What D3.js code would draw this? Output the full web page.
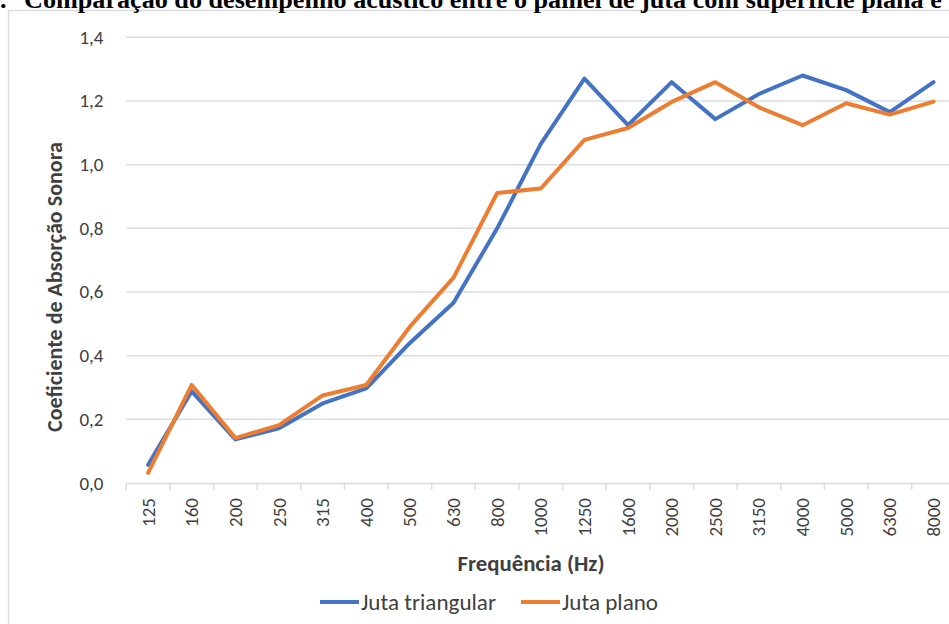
<!DOCTYPE html>
<html>
<head>
<meta charset="utf-8">
<script src="https://cdn.jsdelivr.net/npm/d3@7"></script>
<style>
  html, body { margin: 0; padding: 0; background: #ffffff; }
  svg { display: block; }
  .lbl { font-family: Carlito, Calibri, Lato, "Open Sans", sans-serif; fill: #404040; }
</style>
</head>
<body>
<svg id="chart" width="949" height="624"></svg>
<script>
// Frequency bands (Hz)
const frequencies = ["125", "160", "200", "250", "315", "400", "500", "630", "800", "1000",
                     "1250", "1600", "2000", "2500", "3150", "4000", "5000", "6300", "8000"];

// Sound absorption coefficient per band
const jutaTriangular = [0.057, 0.288, 0.137, 0.172, 0.250, 0.297, 0.440, 0.566, 0.800, 1.065,
                        1.270, 1.124, 1.259, 1.143, 1.222, 1.280, 1.234, 1.165, 1.259];
const jutaPlano      = [0.032, 0.308, 0.141, 0.182, 0.275, 0.308, 0.491, 0.645, 0.911, 0.925,
                        1.078, 1.115, 1.197, 1.259, 1.180, 1.124, 1.193, 1.157, 1.198];

const yTicks = [0, 0.2, 0.4, 0.6, 0.8, 1.0, 1.2, 1.4];

const seriesNames = ["Juta triangular", "Juta plano"];
const seriesColors = ["#4472C4", "#ED7D31"];

const titleText = "Comparação do desempenho acústico entre o painel de juta com superfície plana e";
const yTitle = "Coeficiente de Absorção Sonora";
const xTitle = "Frequência (Hz)";

const svg = d3.select("#chart");
const gridColor = "#d9dce2";

// Fit a text element's font size so its rendered width equals the target width
function fitWidth(sel, target) {
  const w = sel.node().getComputedTextLength();
  const fs = parseFloat(sel.style("font-size"));
  const nfs = fs * target / w;
  sel.style("font-size", nfs + "px");
  return nfs;
}

// Chart frame
svg.append("rect")
  .attr("x", 8.5).attr("y", 10.5)
  .attr("width", 960).attr("height", 640)
  .attr("fill", "#ffffff")
  .attr("stroke", gridColor).attr("stroke-width", 1.5);

// Title (runs past the top edge of the page)
const title = svg.append("text")
  .attr("y", 7.5)
  .style("font-family", "'Liberation Serif', 'Times New Roman', serif")
  .style("font-weight", "bold")
  .style("font-size", "22px")
  .style("fill", "#000");
title.append("tspan").attr("x", 0).text(".");
const titleMain = title.append("tspan").attr("x", 24).text(titleText);
{
  const w = titleMain.node().getComputedTextLength();
  title.style("font-size", (22 * 918 / w) + "px");
}

// Scales
const x = d3.scaleBand().domain(frequencies).range([126.3, 955.3]).padding(0);
const y = d3.scaleLinear().domain([0, 1.4]).range([483, 37.3]);

// Horizontal gridlines
svg.append("g")
  .selectAll("line")
  .data(yTicks.filter(d => d > 0))
  .join("line")
  .attr("x1", x.range()[0]).attr("x2", x.range()[1])
  .attr("y1", d => y(d)).attr("y2", d => y(d))
  .attr("stroke", gridColor).attr("stroke-width", 1.5);

// Y tick labels
const fmt = d => d3.format(".1f")(d).replace(".", ",");
svg.append("g")
  .selectAll("text")
  .data(yTicks)
  .join("text")
  .attr("class", "lbl")
  .attr("x", 103.5)
  .attr("y", d => y(d))
  .attr("text-anchor", "end")
  .attr("dominant-baseline", "central")
  .style("font-size", "19px")
  .text(fmt);

// X axis line and ticks at band boundaries
const xAxis = d3.axisBottom(x).tickSize(0).tickFormat("");
const gx = svg.append("g").attr("transform", `translate(0,${y(0)})`).call(xAxis);
gx.select(".domain").attr("stroke", gridColor).attr("stroke-width", 1.5);
gx.selectAll(".tick").remove();
const bounds = frequencies.map(f => x(f)).concat([x.range()[1]]);
gx.selectAll("line.bt")
  .data(bounds)
  .join("line")
  .attr("class", "bt")
  .attr("x1", d => d).attr("x2", d => d)
  .attr("y1", 0).attr("y2", 7)
  .attr("stroke", gridColor).attr("stroke-width", 1.5);

// X tick labels, rotated
svg.append("g")
  .selectAll("text")
  .data(frequencies)
  .join("text")
  .attr("class", "lbl")
  .attr("transform", d => `translate(${x(d) + x.bandwidth() / 2},498) rotate(-90)`)
  .attr("text-anchor", "end")
  .attr("dominant-baseline", "central")
  .style("font-size", "19px")
  .text(d => d);

// Axis titles
const yt = svg.append("text")
  .attr("class", "lbl")
  .attr("transform", "translate(62,287) rotate(-90)")
  .attr("text-anchor", "middle")
  .style("font-weight", "bold")
  .style("font-size", "18px")
  .text(yTitle);
fitWidth(yt, 290);

const xt = svg.append("text")
  .attr("class", "lbl")
  .attr("x", 531).attr("y", 571)
  .attr("text-anchor", "middle")
  .style("font-weight", "bold")
  .style("font-size", "18px")
  .text(xTitle);
fitWidth(xt, 147);

// Series lines
const line = d3.line()
  .x((d, i) => x(frequencies[i]) + x.bandwidth() / 2)
  .y(d => y(d));

[jutaTriangular, jutaPlano].forEach((vals, k) => {
  svg.append("path")
    .datum(vals)
    .attr("d", line)
    .attr("fill", "none")
    .attr("stroke", seriesColors[k])
    .attr("stroke-width", 4)
    .attr("stroke-linejoin", "round")
    .attr("stroke-linecap", "round");
});

// Legend
const legendItems = [
  { name: seriesNames[0], color: seriesColors[0], x0: 320 },
  { name: seriesNames[1], color: seriesColors[1], x0: 521 }
];
const lg = svg.append("g");
let legendFs = null;
legendItems.forEach(it => {
  lg.append("line")
    .attr("x1", it.x0).attr("x2", it.x0 + 39)
    .attr("y1", 602).attr("y2", 602)
    .attr("stroke", it.color).attr("stroke-width", 4);
  const t = lg.append("text")
    .attr("class", "lbl")
    .attr("x", it.x0 + 41).attr("y", 602)
    .attr("dominant-baseline", "central")
    .style("font-size", (legendFs || 18) + "px")
    .text(it.name);
  if (legendFs === null) legendFs = fitWidth(t, 135);
});
</script>
</body>
</html>
